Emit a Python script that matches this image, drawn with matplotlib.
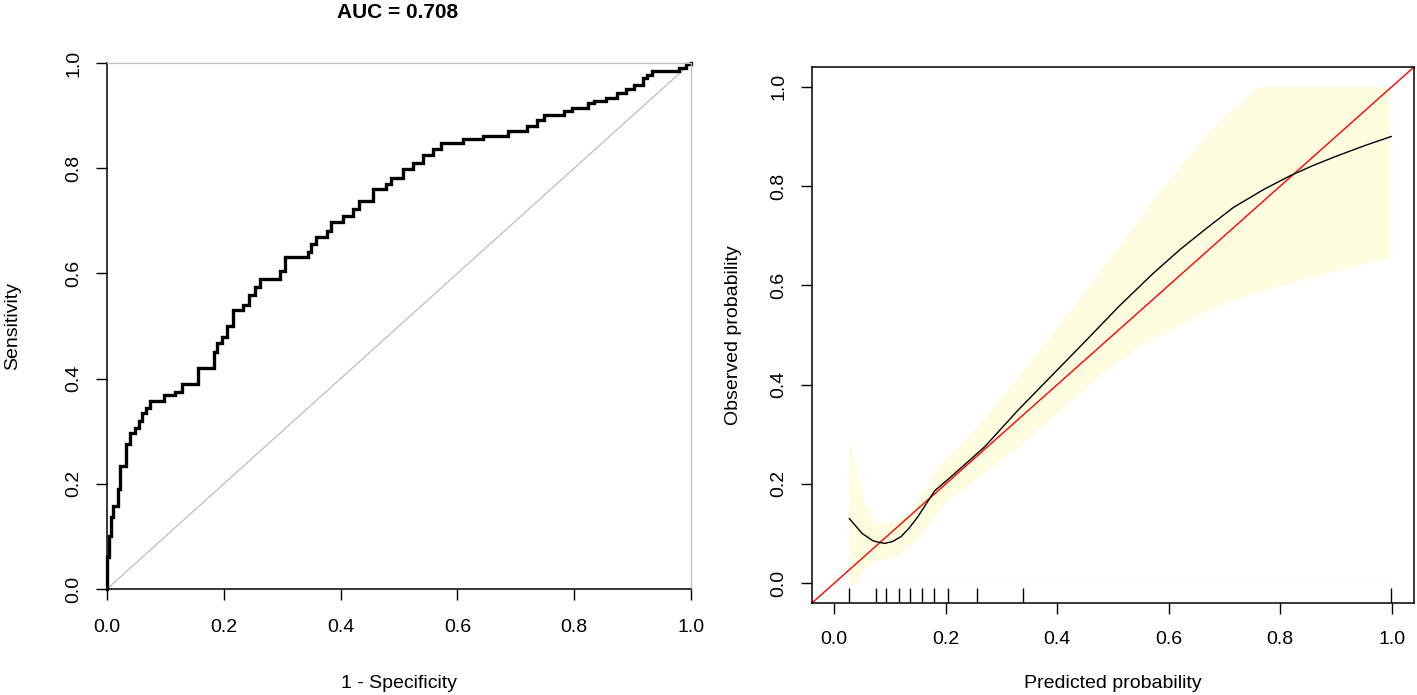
import numpy as np
import matplotlib
matplotlib.use("Agg")
import matplotlib.pyplot as plt

plt.rcParams['font.family'] = ['Liberation Sans', 'DejaVu Sans']
plt.rcParams['font.size'] = 14

# ROC curve corners (1 - specificity, sensitivity)
fpr = [0.000, 0.000, 0.003, 0.006, 0.010, 0.018, 0.023, 0.033, 0.039, 0.048,
       0.055, 0.060, 0.066, 0.073, 0.097, 0.117, 0.128, 0.155, 0.183, 0.188,
       0.197, 0.205, 0.215, 0.233, 0.244, 0.253, 0.262, 0.296, 0.304, 0.344,
       0.350, 0.358, 0.376, 0.384, 0.404, 0.421, 0.432, 0.455, 0.478, 0.487,
       0.507, 0.524, 0.541, 0.558, 0.572, 0.609, 0.643, 0.686, 0.720, 0.737,
       0.749, 0.783, 0.797, 0.823, 0.834, 0.854, 0.874, 0.888, 0.903, 0.917,
       0.925, 0.934, 0.980, 0.991, 1.000]
tpr = [0.000, 0.060, 0.100, 0.136, 0.158, 0.190, 0.234, 0.275, 0.297, 0.306,
       0.320, 0.335, 0.344, 0.357, 0.369, 0.375, 0.389, 0.421, 0.451, 0.467,
       0.480, 0.500, 0.530, 0.540, 0.558, 0.574, 0.590, 0.605, 0.631, 0.640,
       0.655, 0.669, 0.681, 0.697, 0.710, 0.722, 0.738, 0.761, 0.770, 0.782,
       0.798, 0.810, 0.826, 0.836, 0.848, 0.855, 0.862, 0.870, 0.880, 0.892,
       0.902, 0.908, 0.914, 0.924, 0.927, 0.934, 0.943, 0.950, 0.958, 0.971,
       0.977, 0.984, 0.990, 0.999, 1.000]
auc_text = "AUC = 0.708"

# calibration curve
cal_x = [0.027, 0.05, 0.07, 0.09, 0.105, 0.12, 0.135, 0.15, 0.165, 0.18,
         0.21, 0.24, 0.27, 0.33, 0.39, 0.45, 0.51, 0.57, 0.62, 0.67,
         0.716, 0.77, 0.818, 0.86, 0.90, 0.95, 0.999]
cal_y = [0.130, 0.100, 0.085, 0.080, 0.084, 0.094, 0.112, 0.134, 0.160, 0.186,
         0.215, 0.245, 0.275, 0.349, 0.418, 0.487, 0.557, 0.622, 0.672, 0.717,
         0.757, 0.793, 0.821, 0.842, 0.860, 0.881, 0.900]

# confidence band
up_x = [0.027, 0.04, 0.055, 0.07, 0.09, 0.11, 0.13, 0.15, 0.17, 0.19, 0.21,
        0.227, 0.26, 0.287, 0.346, 0.406, 0.466, 0.525, 0.573, 0.60, 0.65,
        0.70, 0.76, 0.996]
up_y = [0.29, 0.22, 0.16, 0.128, 0.12, 0.125, 0.138, 0.165, 0.205, 0.24, 0.26,
        0.28, 0.32, 0.356, 0.437, 0.525, 0.612, 0.70, 0.774, 0.81, 0.88,
        0.94, 1.0, 1.0]
lo_x = [0.027, 0.04, 0.055, 0.07, 0.09, 0.11, 0.13, 0.156, 0.18, 0.203, 0.23,
        0.26, 0.30, 0.35, 0.40, 0.45, 0.50, 0.55, 0.60, 0.65, 0.70, 0.80,
        0.90, 0.996]
lo_y = [0.0, 0.0, 0.03, 0.045, 0.048, 0.052, 0.07, 0.10, 0.135, 0.168, 0.19,
        0.215, 0.25, 0.295, 0.345, 0.395, 0.44, 0.48, 0.51, 0.54, 0.565, 0.60,
        0.63, 0.656]

# rug of predicted probabilities
rug_x = [0.027, 0.075, 0.093, 0.116, 0.135, 0.157, 0.179, 0.204, 0.256, 0.339, 0.998]

ticks = [0.0, 0.2, 0.4, 0.6, 0.8, 1.0]
tick_lbls = ["0.0", "0.2", "0.4", "0.6", "0.8", "1.0"]

W, H = 1417, 695
fig = plt.figure(figsize=(W / 100, H / 100), dpi=100)

# ---- left: ROC ----
ax1 = fig.add_axes([107 / W, 1 - 589 / H, 584 / W, 526 / H])
ax1.plot([0, 1], [0, 1], color="#bebebe", lw=0.9, clip_on=False)
ax1.plot(fpr, tpr, drawstyle="steps-post", color="black", lw=2.4, clip_on=False,
         solid_joinstyle="miter")
ax1.set_xlim(0, 1)
ax1.set_ylim(0, 1)
for s in ["top", "right"]:
    ax1.spines[s].set_color("#bebebe")
    ax1.spines[s].set_linewidth(0.9)
for s in ["left", "bottom"]:
    ax1.spines[s].set_linewidth(1.1)
ax1.set_xticks(ticks)
ax1.set_xticklabels(tick_lbls)
ax1.set_yticks(ticks)
ax1.set_yticklabels(tick_lbls, rotation=90, va="center")
ax1.tick_params(axis="x", length=8, width=1.0, pad=13.5)
ax1.tick_params(axis="y", length=8, width=1.0, pad=9.5)
ax1.set_xlabel("1 - Specificity", va="center")
ax1.xaxis.set_label_coords(0.5, (589 - 683) / 526)
ax1.set_ylabel("Sensitivity", va="center")
ax1.yaxis.set_label_coords((13 - 107) / 584, 0.5)
fig.text(398 / W, 1 - 12 / H, auc_text, ha="center", va="center",
         fontweight="bold", fontsize=15)

# ---- right: calibration ----
ax2 = fig.add_axes([812 / W, 1 - 603 / H, 602 / W, 536 / H])
ax2.fill_between(up_x, up_y, color="#fefde0", lw=0)
ax2.fill_between(lo_x, lo_y, color="white", lw=0)
ax2.plot([-0.1, 1.1], [-0.1, 1.1], color="red", lw=1.0)
ax2.plot(cal_x, cal_y, color="black", lw=1.0)
ax2.vlines(rug_x, 0, 0.028, color="black", lw=1.0,
           transform=ax2.get_xaxis_transform())
ax2.set_xlim(-0.04, 1.04)
ax2.set_ylim(-0.04, 1.04)
for s in ax2.spines.values():
    s.set_linewidth(1.1)
ax2.set_xticks(ticks)
ax2.set_xticklabels(tick_lbls)
ax2.set_yticks(ticks)
ax2.set_yticklabels(tick_lbls, rotation=90, va="center")
ax2.tick_params(axis="x", length=8, width=1.0, pad=12)
ax2.tick_params(axis="y", length=8, width=1.0, pad=9.5)
ax2.set_xlabel("Predicted probability", va="center")
ax2.xaxis.set_label_coords(0.5, (603 - 683) / 536)
ax2.set_ylabel("Observed probability", va="center")
ax2.yaxis.set_label_coords((733 - 812) / 602, 0.5)

fig.savefig("out.png", dpi=100)
